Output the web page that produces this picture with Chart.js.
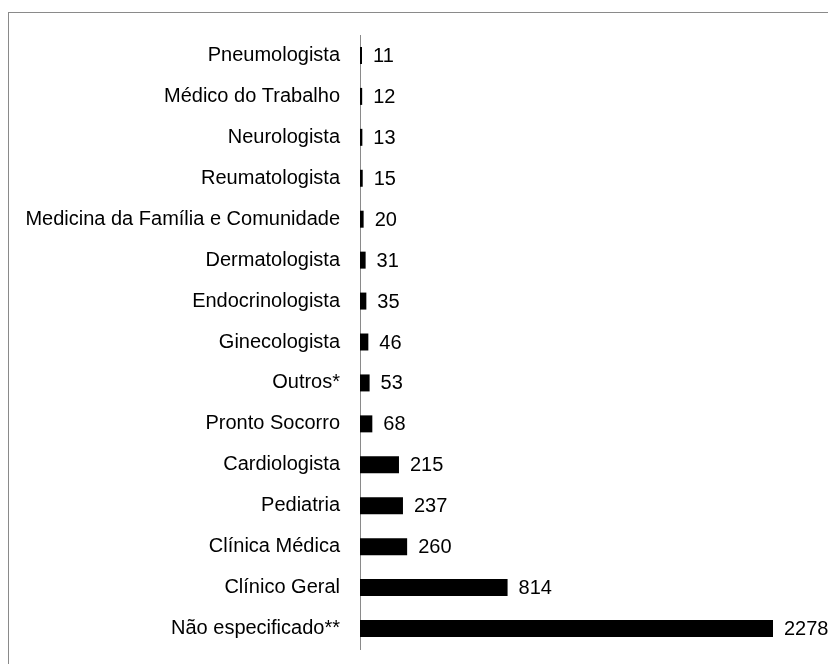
<!DOCTYPE html>
<html>
<head>
<meta charset="utf-8">
<script src="https://cdn.jsdelivr.net/npm/chart.js@4"></script>
<style>
  html, body { margin:0; padding:0; width:828px; height:664px; overflow:hidden; background:#fff; }
  #frame { position:absolute; left:8px; top:12px; width:900px; height:700px; border:1px solid #8a8a8a; }
  #chart { position:absolute; left:0; top:0; }
</style>
</head>
<body>
<div id="frame"></div>
<canvas id="chart" width="828" height="664"></canvas>
<script>
const especialidades = ["Pneumologista","Médico do Trabalho","Neurologista","Reumatologista","Medicina da Família e Comunidade","Dermatologista","Endocrinologista","Ginecologista","Outros*","Pronto Socorro","Cardiologista","Pediatria","Clínica Médica","Clínico Geral","Não especificado**"];
const totais = [11,12,13,15,20,31,35,46,53,68,215,237,260,814,2278];
const xMax = 2278;

const fonte = "'Liberation Sans', Arial, sans-serif";

// escreve o valor ao lado de cada barra
const valoresPlugin = {
  id: "valores",
  afterDatasetsDraw(chart){
    const ctx = chart.ctx;
    const meta = chart.getDatasetMeta(0);
    ctx.save();
    ctx.font = "20px " + fonte;
    ctx.fillStyle = "#000";
    ctx.textAlign = "left";
    ctx.textBaseline = "middle";
    meta.data.forEach((bar,i)=>{
      ctx.fillText(String(totais[i]), bar.x + 11, bar.y + 1);
    });
    ctx.restore();
  }
};

new Chart(document.getElementById("chart"),{
  type:"bar",
  data:{
    labels:especialidades,
    datasets:[{data:totais, backgroundColor:"#000", borderWidth:0, barPercentage:0.415, categoryPercentage:1}]
  },
  options:{
    indexAxis:"y",
    responsive:false,
    animation:false,
    layout:{padding:{top:35, bottom:15, right:55, left:0}},
    plugins:{legend:{display:false}, tooltip:{enabled:false}},
    scales:{
      x:{display:false, min:0, max:xMax},
      y:{
        grid:{display:false, drawTicks:false},
        border:{display:true, color:"#8a8a8a", width:1},
        ticks:{color:"#000", padding:20, font:{family:fonte, size:20}},
        afterFit(scale){ scale.width = 360; scale.paddingTop = 0; scale.paddingBottom = 0; }
      }
    }
  },
  plugins:[valoresPlugin]
});
</script>
</body>
</html>
